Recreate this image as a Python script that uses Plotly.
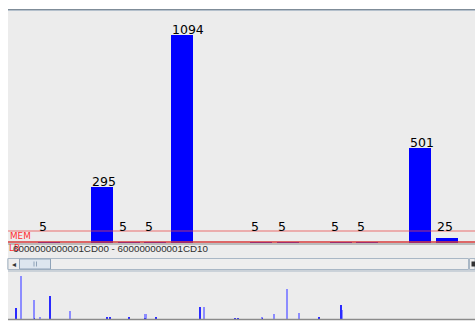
import plotly.graph_objects as go

W, H = 475, 323

# Hits per address in the visible window (one slot per address, None = no hits)
slot_index = list(range(16))
slot_hits = [5, None, 295, 5, 5, 1094, None, None, 5, 5, None, 5, 5, None, 501, 25]

# Horizontal reference levels drawn across the histogram
mem_level = 63
lb_level = 5

range_text = "6000000000001CD00 - 600000000001CD10"

# Overview strip: whole address space, one bin per column
overview_bin_a = [8, 26.5, 42, 99, 102, 121, 137, 148, 192, 227, 230, 254.5, 311, 333]
overview_hits_a = [11.3, 1, 22.7, 2, 1.5, 1.5, 1, 1.5, 12, 1, 1, 1, 1.5, 13.7]
overview_bin_b = [13, 26, 32, 62.5, 137.7, 196.5, 254, 266, 279, 291, 334.5]
overview_hits_b = [43, 19.3, 1.5, 8.3, 5.3, 12, 1.5, 5, 30.3, 6, 9.3]


def px(x):
    return x / W


def py(y):
    return 1 - y / H


BAR_W = 0.83
Y_TOP = 1094 * 233 / 208
LABEL_FLOOR = 11 * Y_TOP / 233

fig = go.Figure()

fig.add_trace(go.Bar(
    x=slot_index, y=[v if v is not None else 0 for v in slot_hits],
    width=BAR_W, marker=dict(color="#0000ff", line=dict(width=0)),
    xaxis="x", yaxis="y", hoverinfo="skip",
))

fig.add_trace(go.Bar(
    x=overview_bin_b, y=overview_hits_b, width=1.7,
    marker=dict(color="#8c8cff", line=dict(width=0)),
    xaxis="x2", yaxis="y2", hoverinfo="skip",
))
fig.add_trace(go.Bar(
    x=overview_bin_a, y=overview_hits_a, width=1.0,
    marker=dict(color="#2a2aff", line=dict(width=0)),
    xaxis="x2", yaxis="y2", hoverinfo="skip",
))

annotations = []
for i, v in zip(slot_index, slot_hits):
    if v is None:
        continue
    annotations.append(dict(
        x=i - BAR_W / 2, y=max(v, LABEL_FLOOR), xref="x", yref="y",
        text=str(v), showarrow=False, xanchor="left", yanchor="bottom",
        yshift=-4, xshift=-1,
        font=dict(family="DejaVu Sans", size=12.5, color="#000000"),
    ))

annotations += [
    dict(x=px(7.5), y=py(235.5), xref="paper", yref="paper", text="MEM",
         showarrow=False, xanchor="left", yanchor="middle",
         font=dict(family="DejaVu Sans", size=8.8, color="#ff3030")),
    dict(x=px(7), y=py(248), xref="paper", yref="paper", text="LB",
         showarrow=False, xanchor="left", yanchor="middle",
         font=dict(family="DejaVu Sans", size=8.8, color="#ff3030")),
    dict(x=px(11), y=py(248), xref="paper", yref="paper", text=range_text,
         showarrow=False, xanchor="left", yanchor="middle",
         font=dict(family="Liberation Sans", size=9.8, color="#2e2e2e")),
    dict(x=px(13.5), y=py(264), xref="paper", yref="paper", text="◂",
         showarrow=False, xanchor="center", yanchor="middle",
         font=dict(family="DejaVu Sans", size=8, color="#333333")),
]

shapes = [
    # panel background
    dict(type="rect", xref="paper", yref="paper", x0=px(8), x1=1, y0=py(320), y1=py(9),
         fillcolor="#ececec", line=dict(width=0), layer="below"),
    # top border
    dict(type="line", xref="paper", yref="paper", x0=px(8), x1=1, y0=py(9.5), y1=py(9.5),
         line=dict(color="#7f8c98", width=1.2)),
    dict(type="line", xref="paper", yref="paper", x0=px(8), x1=1, y0=py(10.5), y1=py(10.5),
         line=dict(color="#b4c0cc", width=1)),
    # histogram bottom edge
    dict(type="line", xref="paper", yref="paper", x0=px(8), x1=1, y0=py(244), y1=py(244),
         line=dict(color="#8a8a8a", width=1)),
    # reference levels
    dict(type="line", xref="paper", yref="y", x0=px(8), x1=1, y0=mem_level, y1=mem_level,
         line=dict(color="rgba(235,70,70,0.5)", width=1.5), layer="above"),
    dict(type="line", xref="paper", yref="y", x0=px(8), x1=1, y0=lb_level, y1=lb_level,
         line=dict(color="#d83a3a", width=1.5), layer="above"),
    # scrollbar track
    dict(type="rect", xref="paper", yref="paper", x0=px(8), x1=px(468.5), y0=py(269.5), y1=py(258.5),
         fillcolor="#eeeeee", line=dict(color="#a9b7c5", width=1)),
    # left button
    dict(type="rect", xref="paper", yref="paper", x0=px(8), x1=px(19.5), y0=py(269.5), y1=py(258.5),
         fillcolor="#eeeeee", line=dict(color="#a9b7c5", width=1)),
    # thumb
    dict(type="rect", xref="paper", yref="paper", x0=px(19.5), x1=px(50.5), y0=py(269), y1=py(259),
         fillcolor="#dde6ef", line=dict(color="#8fa3b8", width=1)),
    dict(type="line", xref="paper", yref="paper", x0=px(34), x1=px(34), y0=py(266.5), y1=py(261.5),
         line=dict(color="#8fa3b8", width=1)),
    dict(type="line", xref="paper", yref="paper", x0=px(36.5), x1=px(36.5), y0=py(266.5), y1=py(261.5),
         line=dict(color="#8fa3b8", width=1)),
    # right button stub
    dict(type="rect", xref="paper", yref="paper", x0=px(469.5), x1=1, y0=py(269.5), y1=py(258.5),
         fillcolor="#eeeeee", line=dict(color="#a9b7c5", width=1)),
    dict(type="rect", xref="paper", yref="paper", x0=px(471.5), x1=px(475), y0=py(266.5), y1=py(261.5),
         fillcolor="#333333", line=dict(width=0)),
    # overview top edge and baseline
    dict(type="line", xref="paper", yref="paper", x0=px(8), x1=1, y0=py(271), y1=py(271),
         line=dict(color="#a9b7c5", width=1)),
    dict(type="line", xref="paper", yref="paper", x0=px(8), x1=1, y0=py(319.5), y1=py(319.5),
         line=dict(color="#8a8a8a", width=1.5)),
]

hidden = dict(showgrid=False, zeroline=False, showticklabels=False, showline=False, ticks="", fixedrange=True)

fig.update_layout(
    width=W, height=H, margin=dict(l=0, r=0, t=0, b=0),
    paper_bgcolor="#ffffff", plot_bgcolor="rgba(0,0,0,0)",
    showlegend=False, bargap=0, barmode="overlay",
    xaxis=dict(domain=[px(8), 1], range=[-1.547, 16.075], **hidden),
    yaxis=dict(domain=[py(243), py(10)], range=[0, Y_TOP], **hidden),
    xaxis2=dict(domain=[px(8), 1], range=[0, 467], anchor="y2", **hidden),
    yaxis2=dict(domain=[py(319), py(271)], range=[0, 48], anchor="x2", **hidden),
    shapes=shapes, annotations=annotations,
)

fig.write_html("out.html")
